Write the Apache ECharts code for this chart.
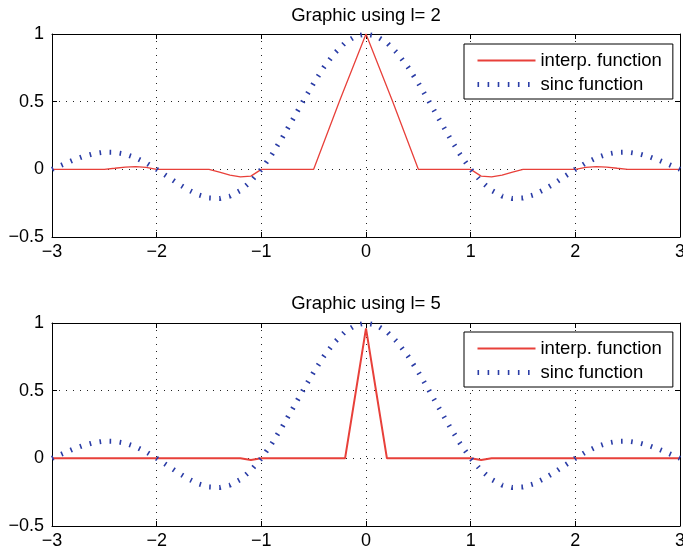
<!DOCTYPE html>
<html><head><meta charset="utf-8">
<script src="https://cdn.jsdelivr.net/npm/echarts/dist/echarts.min.js"></script>
<style>html,body{margin:0;padding:0;background:#fff}#c{width:683px;height:553px}</style>
</head><body><div id="c"></div><script>
// ---- data ----
const titles = ['Graphic using l= 2', 'Graphic using l= 5'];
const seriesNames = ['interp. function', 'sinc function'];
const xTicks = [-3, -2, -1, 0, 1, 2, 3];
const yTicks = [-0.5, 0, 0.5, 1];

const sincX = [-3,-2.9,-2.8,-2.7,-2.6,-2.5,-2.4,-2.3,-2.2,-2.1,-2,-1.9,-1.8,-1.7,-1.6,-1.5,-1.4,-1.3,-1.2,-1.1,-1,-0.9,-0.8,-0.7,-0.6,-0.5,-0.4,-0.3,-0.2,-0.1,0,
  0.1,0.2,0.3,0.4,0.5,0.6,0.7,0.8,0.9,1,1.1,1.2,1.3,1.4,1.5,1.6,1.7,1.8,1.9,2,2.1,2.2,2.3,2.4,2.5,2.6,2.7,2.8,2.9,3];
const sincY = [0,0.034,0.067,0.095,0.116,0.127,0.126,0.112,0.085,0.047,0,-0.052,-0.104,-0.151,-0.189,-0.212,-0.216,-0.198,-0.156,-0.089,0,0.109,0.234,0.368,0.505,0.637,0.757,0.858,0.935,0.984,1,
  0.984,0.935,0.858,0.757,0.637,0.505,0.368,0.234,0.109,0,-0.089,-0.156,-0.198,-0.216,-0.212,-0.189,-0.151,-0.104,-0.052,0,0.047,0.085,0.112,0.126,0.127,0.116,0.095,0.067,0.034,0];

const interp2X = [-3,-2.5,-2.4,-2.3,-2.2,-2.1,-2,-1.5,-1.4,-1.3,-1.2,-1.1,-1,-0.5,-0.25,0,0.25,0.5,1,1.1,1.2,1.3,1.4,1.5,2,2.1,2.2,2.3,2.4,2.5,3];
const interp2Y = [0,0,0.008,0.017,0.02,0.015,0,0,-0.02,-0.042,-0.055,-0.05,0,0,0.51,1,0.51,0,0,-0.05,-0.055,-0.042,-0.02,0,0,0.015,0.02,0.017,0.008,0,0];

const interp5X = [-3,-1.2,-1.1,-1,-0.2,0,0.2,1,1.1,1.2,3];
const interp5Y = [0,0,-0.012,0,0,0.96,0,0,-0.012,0,0];

// ---- chart ----
const FONT = '"Liberation Sans", Arial, Helvetica, sans-serif';
const RED = '#e8403a', BLUE = '#2a3ca6';
const zip = (a, b) => a.map((v, i) => [v, b[i]]);
const minus = v => String(v).replace('-', '\u2212');
const gridTops = [34, 323];

const xAxes = [], yAxes = [];
gridTops.forEach((t, gi) => {
  const tick = {inside: true, length: 5, lineStyle: {color: '#000', width: 1}};
  const line = {onZero: false, lineStyle: {color: '#000', width: 1}};
  xAxes.push({type: 'value', gridIndex: gi, min: xTicks[0], max: xTicks[xTicks.length-1], interval: 1, position: 'bottom',
    axisLine: line, axisTick: tick,
    axisLabel: {formatter: minus, color: '#000', fontSize: 18, fontFamily: FONT, margin: 6, showMinLabel: true, showMaxLabel: true, hideOverlap: false},
    splitLine: {show: true, lineStyle: {type: [1, 6], color: '#222', width: 1}}});
  xAxes.push({type: 'value', gridIndex: gi, min: xTicks[0], max: xTicks[xTicks.length-1], interval: 1, position: 'top',
    axisLine: line, axisTick: tick, axisLabel: {show: false}, splitLine: {show: false}});
  yAxes.push({type: 'value', gridIndex: gi, min: yTicks[0], max: yTicks[yTicks.length-1], interval: 0.5, position: 'left',
    axisLine: line, axisTick: tick,
    axisLabel: {formatter: minus, color: '#000', fontSize: 18, fontFamily: FONT, margin: 8, showMinLabel: true, showMaxLabel: true},
    splitLine: {show: true, lineStyle: {type: [1, 6], color: '#222', width: 1}}});
  yAxes.push({type: 'value', gridIndex: gi, min: yTicks[0], max: yTicks[yTicks.length-1], interval: 0.5, position: 'right',
    axisLine: line, axisTick: tick, axisLabel: {show: false}, splitLine: {show: false}});
});

const interpData = [zip(interp2X, interp2Y), zip(interp5X, interp5Y)];
const interpWidth = [1.3, 2];
const series = [];
gridTops.forEach((t, gi) => {
  series.push({type: 'line', name: seriesNames[0], xAxisIndex: gi*2, yAxisIndex: gi*2, data: interpData[gi],
    symbol: 'none', animation: false, lineStyle: {color: RED, width: interpWidth[gi]}, itemStyle: {color: RED}, z: 3});
  series.push({type: 'line', name: seriesNames[1], xAxisIndex: gi*2, yAxisIndex: gi*2, data: zip(sincX, sincY),
    symbol: 'none', animation: false, lineStyle: {color: BLUE, width: 5, type: [1.6, 8.5], cap: 'butt'}, itemStyle: {color: BLUE}, z: 4});
});

const legendTops = [44, 332];
const option = {
  animation: false,
  backgroundColor: '#fff',
  grid: gridTops.map(t => ({left: 52, right: 3, top: t, height: 203, containLabel: false, outerBoundsMode: 'none'})),
  xAxis: xAxes,
  yAxis: yAxes,
  legend: legendTops.map(t => ({
    data: [
      {name: seriesNames[0], lineStyle: {width: 2, color: RED}},
      {name: seriesNames[1], lineStyle: {width: 5, color: BLUE, type: [1.6, 8.5], cap: 'butt'}}
    ],
    orient: 'vertical', left: 464, top: t,
    padding: [7, 11, 5, 11], itemWidth: 58, itemHeight: 18, itemGap: 5,
    backgroundColor: '#fff', borderColor: '#000', borderWidth: 1, borderRadius: 0,
    selectedMode: false, itemStyle: {opacity: 0},
    textStyle: {fontSize: 18.5, fontFamily: FONT, color: '#000'}})),
  graphic: titles.map((s, i) => ({type: 'text', x: 366, y: [16, 304][i],
    style: {text: s, font: '18.5px ' + FONT, fill: '#000', align: 'center', verticalAlign: 'middle'}})),
  series: series
};
const chart = echarts.init(document.getElementById('c'), null, {renderer: 'canvas'});
chart.setOption(option);
</script></body></html>
